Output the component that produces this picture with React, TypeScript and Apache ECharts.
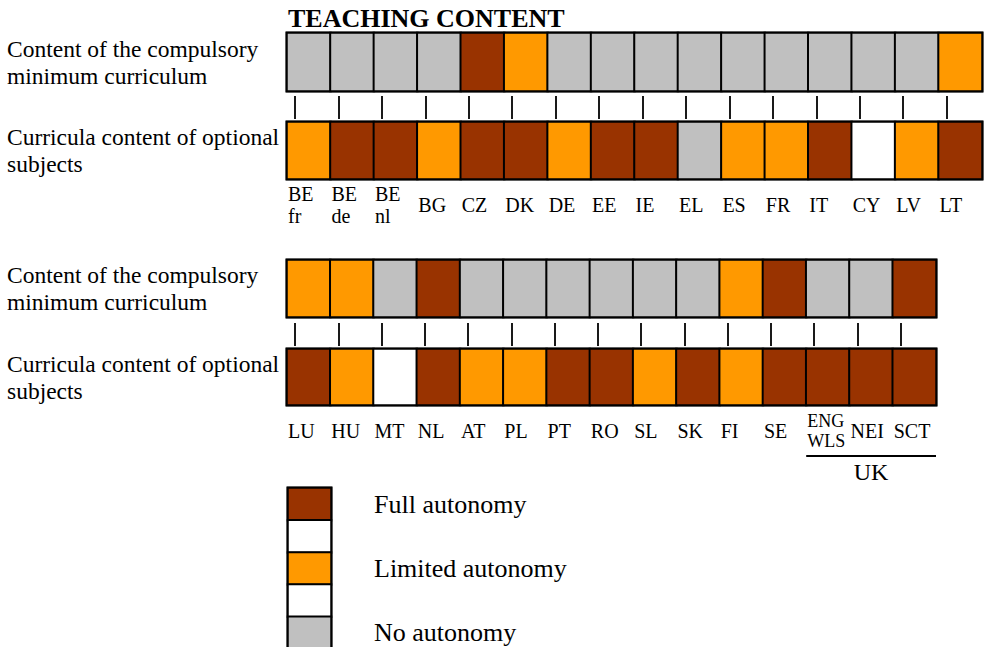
import React, { useEffect, useRef } from 'react';
import * as echarts from 'echarts';

const FONT = '"Liberation Serif", "Times New Roman", serif';

// ---------- data ----------
const titleText = 'TEACHING CONTENT';
const rowLabels = ['Content of the compulsory\nminimum curriculum', 'Curricula content of optional\nsubjects'];

const countriesA = ['BE fr', 'BE de', 'BE nl', 'BG', 'CZ', 'DK', 'DE', 'EE', 'IE', 'EL', 'ES', 'FR', 'IT', 'CY', 'LV', 'LT'];
const compulsoryA = ['none', 'none', 'none', 'none', 'full', 'limited', 'none', 'none', 'none', 'none', 'none', 'none', 'none', 'none', 'none', 'limited'];
const optionalA = ['limited', 'full', 'full', 'limited', 'full', 'full', 'limited', 'full', 'full', 'none', 'limited', 'limited', 'full', 'na', 'limited', 'full'];

const countriesB = ['LU', 'HU', 'MT', 'NL', 'AT', 'PL', 'PT', 'RO', 'SL', 'SK', 'FI', 'SE', 'ENG WLS', 'NEI', 'SCT'];
const compulsoryB = ['limited', 'limited', 'none', 'full', 'none', 'none', 'none', 'none', 'none', 'none', 'limited', 'full', 'none', 'none', 'full'];
const optionalB = ['full', 'limited', 'na', 'full', 'limited', 'limited', 'full', 'full', 'limited', 'full', 'limited', 'full', 'full', 'full', 'full'];

const ukGroup = { label: 'UK', from: 'ENG WLS', to: 'SCT' };

const levels = ['none', 'limited', 'full', 'na'];
const levelColors = ['#C0C0C0', '#FF9900', '#993300', '#FFFFFF'];

const legendRows = ['full', 'na', 'limited', 'na', 'none'];
const legendLabels = ['Full autonomy', '', 'Limited autonomy', '', 'No autonomy'];

// ---------- layout ----------
const GRIDS = [
  { left: 287, top: 33, width: 695, height: 58 },
  { left: 287, top: 122, width: 695, height: 57 },
  { left: 287, top: 260, width: 649, height: 57 },
  { left: 287, top: 349, width: 649, height: 56 },
  { left: 288, top: 488, width: 43, height: 161 },
];
const CONNECTOR_POS = 0.185; // connector mark position inside each cell (fraction of cell width)

const code = (s: string) => levels.indexOf(s);

function buildOption() {
  const grid = GRIDS.map((g) => ({
    ...g,
    show: true,
    borderColor: '#000',
    borderWidth: 3,
    backgroundColor: 'transparent',
    containLabel: false,
    outerBoundsMode: 'none',
  }));

  const hiddenCat = (gridIndex: number, data: string[]) => ({
    type: 'category',
    gridIndex,
    position: 'top',
    data,
    axisLine: { show: false },
    axisTick: { show: false },
    axisLabel: { show: false },
    splitLine: { show: false },
  });

  const connectorAxis = (gridIndex: number, cats: string[], offset: number) => ({
    type: 'value',
    gridIndex,
    position: 'bottom',
    offset,
    min: 0,
    max: cats.length,
    interval: 1,
    axisLine: { show: false },
    axisLabel: { show: false },
    splitLine: { show: false },
    axisTick: {
      show: true,
      inside: false,
      length: 23,
      lineStyle: { color: '#1a1a1a', width: 2 },
      customValues: cats.map((_, i) => i + CONNECTOR_POS),
    },
  });

  const labelAxis = (gridIndex: number, cats: string[], margin: number) => ({
    type: 'value',
    gridIndex,
    position: 'bottom',
    min: 0,
    max: cats.length,
    interval: 1,
    axisLine: { show: false },
    axisTick: { show: false },
    splitLine: { show: false },
    axisLabel: {
      show: true,
      margin,
      align: 'left',
      verticalAlign: 'middle',
      padding: [0, 0, 0, 1],
      fontSize: 20,
      lineHeight: 22,
      fontFamily: FONT,
      color: '#000',
      formatter: (v: number) => {
        const i = Math.round(v);
        if (i >= cats.length) return '';
        const name = cats[i];
        if (name === 'ENG WLS') return '{s|ENG}\n{s|WLS}';
        return name.replace(' ', '\n');
      },
      rich: {
        s: { fontSize: 18, lineHeight: 20, fontFamily: FONT, color: '#000', align: 'left' },
      },
    },
  });

  const rowAxis = (gridIndex: number, label: string) => ({
    type: 'category',
    gridIndex,
    data: [label],
    axisLine: { show: false },
    axisTick: { show: false },
    splitLine: { show: false },
    axisLabel: {
      margin: 280,
      align: 'left',
      verticalAlign: 'middle',
      fontSize: 23.5,
      lineHeight: 27,
      fontFamily: FONT,
      color: '#000',
    },
  });

  const xAxis = [
    hiddenCat(0, countriesA),
    hiddenCat(1, countriesA),
    hiddenCat(2, countriesB),
    hiddenCat(3, countriesB),
    hiddenCat(4, ['']),
    connectorAxis(0, countriesA, 5),
    labelAxis(1, countriesA, 26),
    connectorAxis(2, countriesB, 6),
    labelAxis(3, countriesB, 26),
  ];

  const yAxis = [
    rowAxis(0, rowLabels[0]),
    rowAxis(1, rowLabels[1]),
    rowAxis(2, rowLabels[0]),
    rowAxis(3, rowLabels[1]),
    {
      type: 'category',
      gridIndex: 4,
      position: 'right',
      inverse: true,
      data: legendRows.map((_, i) => 'r' + i),
      axisLine: { show: false },
      axisTick: { show: false },
      splitLine: { show: false },
      axisLabel: {
        margin: 43,
        align: 'left',
        verticalAlign: 'middle',
        fontSize: 26,
        fontFamily: FONT,
        color: '#000',
        interval: 0,
        formatter: (_v: string, i: number) => legendLabels[i],
      },
    },
  ];

  const rowSeries = (idx: number, values: string[]) => ({
    type: 'heatmap',
    xAxisIndex: idx,
    yAxisIndex: idx,
    data: values.map((v, i) => [i, 0, code(v)]),
    itemStyle: { borderColor: '#000', borderWidth: 2 },
    emphasis: { disabled: true },
    label: { show: false },
  });

  const series = [
    rowSeries(0, compulsoryA),
    rowSeries(1, optionalA),
    rowSeries(2, compulsoryB),
    rowSeries(3, optionalB),
    {
      type: 'heatmap',
      xAxisIndex: 4,
      yAxisIndex: 4,
      data: legendRows.map((v, i) => [0, i, code(v)]),
      itemStyle: { borderColor: '#000', borderWidth: 2 },
      emphasis: { disabled: true },
      label: { show: false },
    },
  ];

  return {
    animation: false,
    backgroundColor: '#fff',
    title: {
      text: titleText,
      left: 283,
      top: 0,
      textStyle: { fontFamily: FONT, fontSize: 26, fontWeight: 'bold', color: '#000', lineHeight: 26 },
    },
    grid,
    xAxis,
    yAxis,
    visualMap: {
      type: 'piecewise',
      show: false,
      dimension: 2,
      seriesIndex: [0, 1, 2, 3, 4],
      pieces: levels.map((l, i) => ({ value: i, color: levelColors[i], label: l })),
    },
    series,
  };
}

export default function App() {
  const ref = useRef<HTMLDivElement>(null);
  useEffect(() => {
    if (!ref.current) return;
    const chart = echarts.init(ref.current, null, { renderer: 'svg' });
    chart.setOption(buildOption() as any);
    // UK bracket derived from the label axis of the lower panel
    const x0 = chart.convertToPixel({ xAxisIndex: 8 } as any, countriesB.indexOf(ukGroup.from)) as number;
    const x1 = chart.convertToPixel({ xAxisIndex: 8 } as any, countriesB.indexOf(ukGroup.to) + 1) as number;
    const yLine = GRIDS[3].top + GRIDS[3].height + 51;
    chart.setOption({
      graphic: [
        { type: 'line', shape: { x1: x0, y1: yLine, x2: x1, y2: yLine }, style: { stroke: '#000', lineWidth: 2 } },
        {
          type: 'text',
          x: (x0 + x1) / 2,
          y: yLine + 16,
          style: { text: ukGroup.label, fontFamily: FONT, fontSize: 24, fill: '#000', align: 'center', verticalAlign: 'middle' },
        },
      ],
    });
    return () => chart.dispose();
  }, []);
  return (
    <div
      ref={ref}
      style={{ position: 'absolute', left: 0, top: 0, width: 984, height: 647, background: '#fff' }}
    />
  );
}
